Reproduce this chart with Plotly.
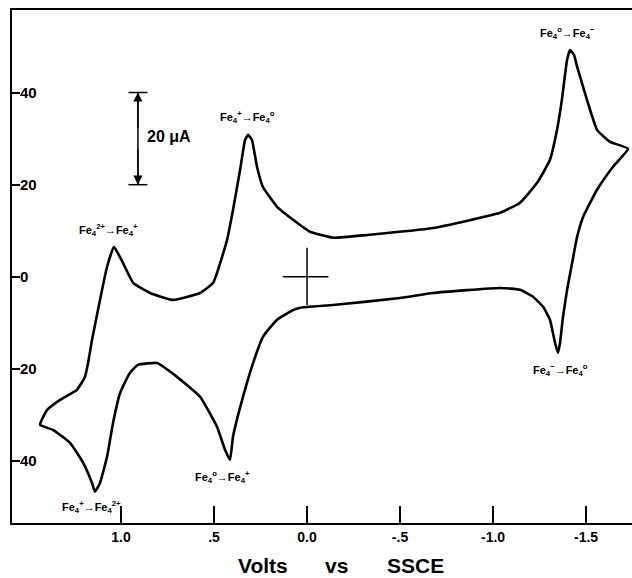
import plotly.graph_objects as go

# Cyclic voltammogram trace (Volts vs SSCE, current in microamps)
volts = [1.435, 1.398, 1.328, 1.237, 1.194, 1.177, 1.156, 1.113, 1.075, 1.038,
         0.989, 0.935, 0.844, 0.720, 0.575, 0.505, 0.430, 0.398, 0.360, 0.333,
         0.317, 0.296, 0.269, 0.237, 0.161, 0.075, -0.016, -0.140, -0.323, -0.677,
         -1.038, -1.145, -1.237, -1.306, -1.344, -1.370, -1.398, -1.414, -1.435, -1.452,
         -1.505, -1.559, -1.629, -1.726,
         -1.645, -1.559, -1.484, -1.452, -1.425, -1.398, -1.376, -1.360, -1.349, -1.333,
         -1.306, -1.269, -1.215, -1.145, -1.038, -0.677, -0.500, -0.140, 0.038, 0.075,
         0.161, 0.237, 0.290, 0.344, 0.398, 0.414, 0.441, 0.484, 0.575, 0.699,
         0.806, 0.909, 0.952, 1.005, 1.043, 1.075, 1.113, 1.140, 1.156, 1.204,
         1.274, 1.366, 1.435]
current = [-32.1, -28.9, -26.7, -24.5, -21.7, -18.7, -13.7, -5.0, 2.2, 6.5,
           3.0, -1.3, -3.5, -5.0, -3.5, -1.3, 8.0, 14.5, 23.2, 29.7,
           30.8, 29.7, 23.9, 19.5, 15.2, 12.4, 9.8, 8.5, 9.1, 10.6,
           13.9, 16.1, 20.4, 25.4, 31.9, 38.4, 47.1, 49.2, 48.2, 45.6,
           38.4, 31.9, 29.3, 27.8,
           23.9, 18.9, 13.0, 8.7, 3.0, -2.8, -8.7, -14.3, -16.5, -14.3,
           -9.3, -6.5, -4.3, -2.8, -2.4, -3.5, -4.6, -6.1, -6.7, -7.2,
           -9.3, -13.0, -18.7, -26.0, -34.7, -39.7, -37.5, -32.5, -26.0, -21.7,
           -18.7, -19.1, -20.8, -25.2, -31.7, -39.0, -44.7, -46.6, -44.7, -40.3,
           -36.0, -33.2, -32.1]

x_tickvals = [1.0, 0.5, 0.0, -0.5, -1.0, -1.5]
x_ticktext = ["1.0", ".5", "0.0", "-.5", "-1.0", "-1.5"]
y_tickvals = [40, 20, 0, -20, -40]
y_ticktext = ["40", "20", "0", "20", "40"]

peak_labels = [
    "<b>Fe<sub>4</sub><sup>2+</sup>→Fe<sub>4</sub><sup>+</sup></b>",
    "<b>Fe<sub>4</sub><sup>+</sup>→Fe<sub>4</sub><sup>o</sup></b>",
    "<b>Fe<sub>4</sub><sup>o</sup>→Fe<sub>4</sub><sup>−</sup></b>",
    "<b>Fe<sub>4</sub><sup>−</sup>→Fe<sub>4</sub><sup>o</sup></b>",
    "<b>Fe<sub>4</sub><sup>o</sup>→Fe<sub>4</sub><sup>+</sup></b>",
    "<b>Fe<sub>4</sub><sup>+</sup>→Fe<sub>4</sub><sup>2+</sup></b>",
]
peak_label_x = [1.065, 0.32, -1.40, -1.36, 0.457, 1.156]
peak_label_y = [10.2, 34.7, 52.9, -20.2, -43.4, -50.0]

# x-axis title words
title_words = ["Volts", "vs", "SSCE"]
title_word_x = [0.405, 0.524, 0.65]

# scale bar (20 microamps)
bar_x = 0.909
bar_lo, bar_hi = 20, 40
bar_cap = 0.051

fig = go.Figure()
fig.add_trace(go.Scatter(x=volts, y=current, mode="lines",
                         line=dict(color="black", width=2.6, shape="spline", smoothing=0.4),
                         hoverinfo="skip", showlegend=False))

shapes = [
    dict(type="line", x0=bar_x, x1=bar_x, y0=bar_lo, y1=bar_hi, line=dict(color="black", width=1.5)),
    dict(type="line", x0=bar_x - bar_cap, x1=bar_x + bar_cap, y0=bar_hi, y1=bar_hi, line=dict(color="black", width=1.5)),
    dict(type="line", x0=bar_x - bar_cap, x1=bar_x + bar_cap, y0=bar_lo, y1=bar_lo, line=dict(color="black", width=1.5)),
    dict(type="line", x0=0.13, x1=-0.115, y0=0, y1=0, line=dict(color="black", width=1.5)),
    dict(type="line", x0=0, x1=0, y0=6.3, y1=-6.1, line=dict(color="black", width=1.5)),
]

annotations = []
for t, xx, yy in zip(peak_labels, peak_label_x, peak_label_y):
    annotations.append(dict(x=xx, y=yy, text=t, showarrow=False,
                            font=dict(size=11, color="black", family="Liberation Sans")))
annotations.append(dict(x=bar_x, y=bar_hi, ax=bar_x, ay=32, axref="x", ayref="y",
                        text="", showarrow=True, arrowhead=2, arrowsize=1.3, arrowwidth=1.4,
                        arrowcolor="black"))
annotations.append(dict(x=bar_x, y=bar_lo, ax=bar_x, ay=28, axref="x", ayref="y",
                        text="", showarrow=True, arrowhead=2, arrowsize=1.3, arrowwidth=1.4,
                        arrowcolor="black"))
annotations.append(dict(x=0.873, y=30.4, xanchor="left", text="<b>20 μA</b>", showarrow=False,
                        font=dict(size=16, color="black", family="Liberation Sans")))
for w, wx in zip(title_words, title_word_x):
    annotations.append(dict(x=wx, y=-0.082, xref="paper", yref="paper", xanchor="center",
                            yanchor="middle", text="<b>" + w + "</b>", showarrow=False,
                            font=dict(size=21, color="black", family="Liberation Sans")))

fig.update_layout(
    width=632, height=578,
    margin=dict(l=12, r=0, t=10, b=55),
    plot_bgcolor="white", paper_bgcolor="white",
    shapes=shapes, annotations=annotations,
    xaxis=dict(range=[1.586, -1.747], tickvals=x_tickvals, ticktext=x_ticktext,
               automargin=False,
               showgrid=False, zeroline=False, showline=True, linecolor="black", linewidth=2,
               mirror=True, ticks="inside", ticklen=17, tickwidth=2, tickcolor="black",
               tickfont=dict(size=14, color="black", family="Liberation Sans", weight="bold")),
    yaxis=dict(range=[-53.4, 57.9], tickvals=y_tickvals, ticktext=y_ticktext,
               automargin=False,
               showgrid=False, zeroline=False, showline=True, linecolor="black", linewidth=2,
               ticks="inside", ticklen=8, tickwidth=2, tickcolor="black",
               ticklabelposition="inside",
               tickfont=dict(size=15, color="black", family="Liberation Sans", weight="bold")),
)

fig.write_html("out.html", config={"displayModeBar": False},
               post_script="document.body.style.margin='0';document.body.style.overflow='hidden';")
